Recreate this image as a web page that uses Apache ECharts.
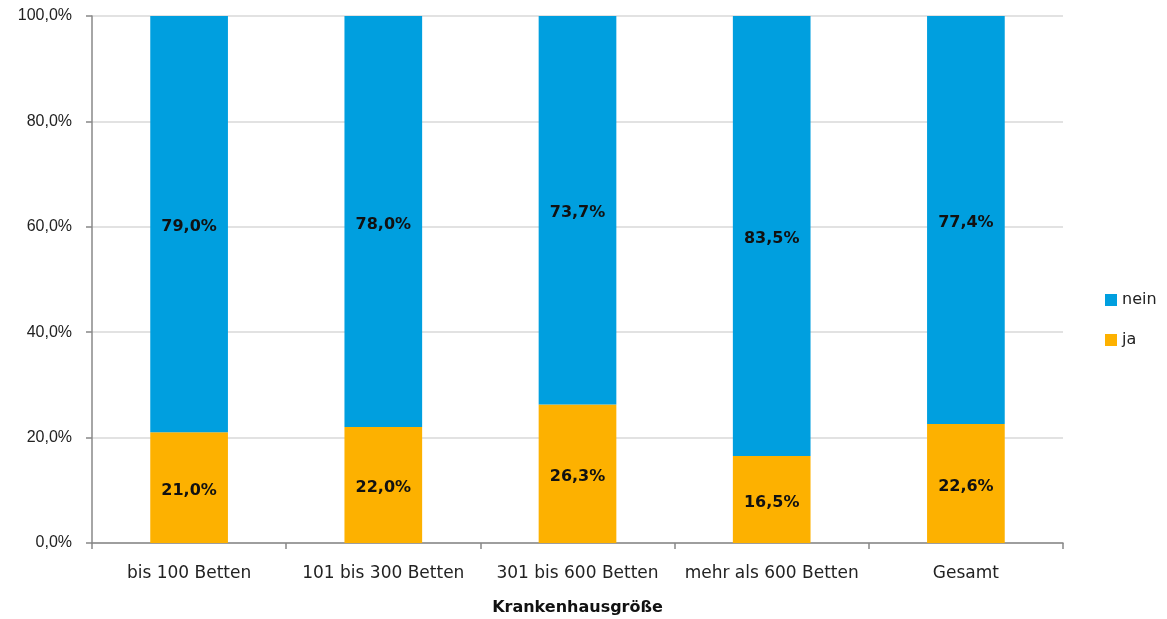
<!DOCTYPE html>
<html><head><meta charset="utf-8">
<script src="https://cdn.jsdelivr.net/npm/echarts@6/dist/echarts.min.js"></script>
<style>html,body{margin:0;padding:0;background:#fff}#c{width:1167px;height:619px}</style>
</head><body><div id="c"></div>
<script>
const categories = ['bis 100 Betten', '101 bis 300 Betten', '301 bis 600 Betten', 'mehr als 600 Betten', 'Gesamt'];
const ja = [21.0, 22.0, 26.3, 16.5, 22.6];
const nein = [79.0, 78.0, 73.7, 83.5, 77.4];
const yTicks = [0, 20, 40, 60, 80, 100];

const fmt = v => v.toFixed(1).replace('.', ',') + '%';
const font = 'DejaVu Sans, Arial, sans-serif';
const font2 = 'Liberation Sans, Arial, sans-serif';
const chart = echarts.init(document.getElementById('c'));
const lbl = {show: true, position: 'inside', offset: [0, 3], formatter: p => fmt(p.value), fontWeight: 'bold', fontSize: 16, color: '#111', fontFamily: font};
chart.setOption({
  animation: false,
  textStyle: {fontFamily: font},
  grid: {left: 92, right: 104, top: 16, bottom: 76, containLabel: false, outerBoundsMode: 'none'},
  legend: {
    orient: 'vertical', left: 1100, top: 287, itemWidth: 12, itemHeight: 12, itemGap: 24,
    data: ['nein', 'ja'], icon: 'rect',
    textStyle: {fontSize: 16, color: '#222', fontFamily: font}
  },
  xAxis: {
    type: 'category', data: categories,
    name: 'Krankenhausgröße', nameLocation: 'middle', nameGap: 57,
    nameTextStyle: {fontWeight: 'bold', fontSize: 16, color: '#111', fontFamily: font},
    axisLine: {lineStyle: {color: '#888', width: 1.5}},
    axisTick: {show: true, length: 6, alignWithLabel: false, lineStyle: {color: '#888', width: 1.5}},
    axisLabel: {fontSize: 17, color: '#222', margin: 22, interval: 0, hideOverlap: false, fontFamily: font}
  },
  yAxis: {
    type: 'value', min: yTicks[0], max: yTicks[yTicks.length - 1], interval: 20,
    axisLine: {show: true, lineStyle: {color: '#888', width: 1.5}},
    axisTick: {show: true, length: 6, lineStyle: {color: '#888', width: 1.5}},
    splitLine: {lineStyle: {color: '#d9d9d9', width: 1.5}},
    axisLabel: {fontSize: 16, color: '#222', margin: 20, formatter: v => fmt(v), fontFamily: font2}
  },
  series: [
    {name: 'ja', type: 'bar', stack: 'a', data: ja, barWidth: '40%', itemStyle: {color: '#FDB100'}, label: lbl},
    {name: 'nein', type: 'bar', stack: 'a', data: nein, barWidth: '40%', itemStyle: {color: '#009FDF'}, label: lbl}
  ]
});
</script></body></html>
